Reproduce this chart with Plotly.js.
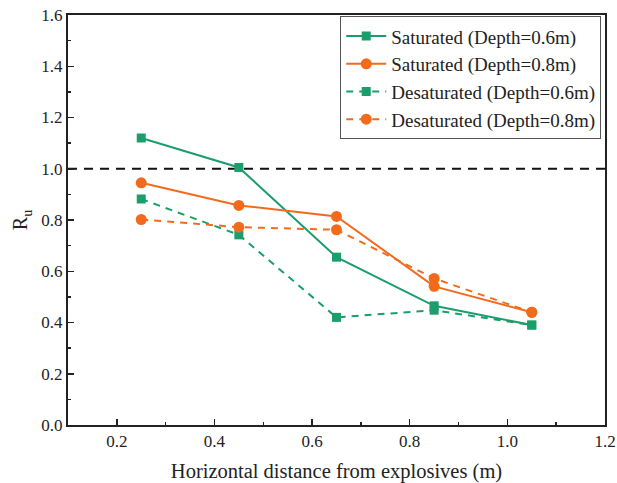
<!DOCTYPE html>
<html>
<head>
<meta charset="utf-8">
<script src="https://cdn.plot.ly/plotly-3.0.1.min.js"></script>
<style>html,body{margin:0;padding:0;background:#fff;}#chart{width:617px;height:483px;}</style>
</head>
<body>
<div id="chart"></div>
<script>
const distance = [0.25, 0.45, 0.65, 0.85, 1.05];
const satDepth06 = [1.12, 1.005, 0.655, 0.465, 0.39];
const satDepth08 = [0.945, 0.857, 0.814, 0.541, 0.44];
const desatDepth06 = [0.882, 0.742, 0.42, 0.448, 0.39];
const desatDepth08 = [0.802, 0.772, 0.762, 0.572, 0.44];
const seriesNames = ['Saturated (Depth=0.6m)', 'Saturated (Depth=0.8m)', 'Desaturated (Depth=0.6m)', 'Desaturated (Depth=0.8m)'];
const referenceLevel = 1.0;

const green = '#1b9e6b';
const orange = '#f26b1d';

const traces = [
  {x: distance, y: satDepth06, name: seriesNames[0], mode: 'lines+markers',
   line: {color: green, width: 2}, marker: {symbol: 'square', size: 9, color: green}},
  {x: distance, y: satDepth08, name: seriesNames[1], mode: 'lines+markers',
   line: {color: orange, width: 2}, marker: {symbol: 'circle', size: 11, color: orange}},
  {x: distance, y: desatDepth06, name: seriesNames[2], mode: 'lines+markers',
   line: {color: green, width: 2, dash: '7px,6px'}, marker: {symbol: 'square', size: 9, color: green}},
  {x: distance, y: desatDepth08, name: seriesNames[3], mode: 'lines+markers',
   line: {color: orange, width: 2, dash: '7px,6px'}, marker: {symbol: 'circle', size: 11, color: orange}}
];

const fam = 'Liberation Serif, Times New Roman, serif';
const f = (size) => ({family: fam, size: size, color: '#222'});

const layout = {
  width: 617, height: 483,
  margin: {l: 68, r: 12, t: 15, b: 58},
  paper_bgcolor: '#fff', plot_bgcolor: '#fff',
  font: f(17),
  showlegend: true,
  legend: {x: 0.993, y: 0.997, xanchor: 'right', yanchor: 'top',
    bordercolor: '#555', borderwidth: 1, bgcolor: '#fff',
    font: f(19), tracegroupgap: 0, itemwidth: 40},
  xaxis: {range: [0.1, 1.2], dtick: 0.2, tick0: 0.2, tickformat: '.1f',
    ticks: 'inside', ticklen: 6, tickwidth: 1.5, tickcolor: '#222',
    minor: {ticks: 'inside', ticklen: 3, dtick: 0.1, tick0: 0.1, tickcolor: '#222', tickwidth: 1.5},
    showline: true, linecolor: '#222', linewidth: 2, mirror: true,
    showgrid: false, zeroline: false, ticklabeloverflow: 'allow',
    tickfont: f(17),
    title: {text: 'Horizontal distance from explosives (m)', font: f(20.5), standoff: 14}},
  yaxis: {range: [0, 1.6], dtick: 0.2, tickformat: '.1f',
    ticks: 'inside', ticklen: 6, tickwidth: 1.5, tickcolor: '#222',
    minor: {ticks: 'inside', ticklen: 3, dtick: 0.1, tickcolor: '#222', tickwidth: 1.5},
    showline: true, linecolor: '#222', linewidth: 2, mirror: true,
    showgrid: false, zeroline: false,
    tickfont: f(17),
    title: {text: 'R<sub>u</sub>', font: f(20), standoff: 8}},
  shapes: [{type: 'line', xref: 'paper', x0: 0, x1: 1, yref: 'y', y0: referenceLevel, y1: referenceLevel,
    line: {color: '#111', width: 2, dash: '9px,7px'}, layer: 'below'}]
};

Plotly.newPlot('chart', traces, layout, {displayModeBar: false, staticPlot: true});
</script>
</body>
</html>
